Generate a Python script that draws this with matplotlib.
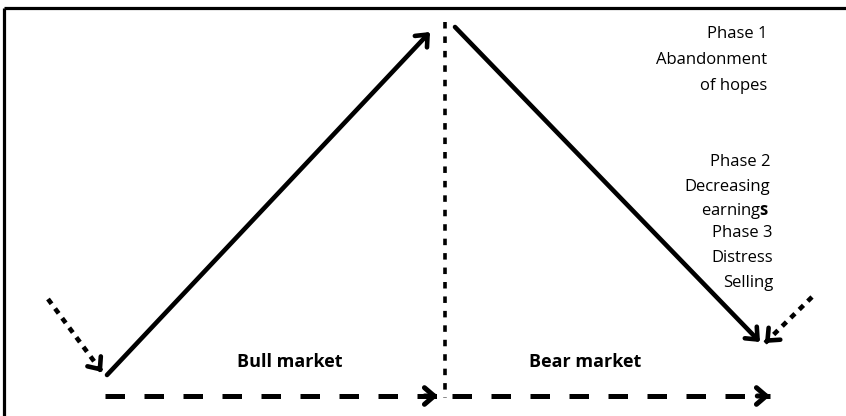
import matplotlib.pyplot as plt

# diagram in pixel units (x right, y down)
bull_trend = [(107, 375), (430, 32)]
bear_trend = [(455, 27), (760, 342)]
lead_in = [(48, 299), (102, 372)]
lead_out = [(812, 297), (765, 343)]
divider_x = 445
divider_y = (22, 398)
axis_bull = [(105, 396), (438, 396)]
axis_bear = [(452, 396), (770, 396)]

phase_lines = [["Phase 1", "Abandonment", "of hopes"],
               ["Phase 2", "Decreasing", r"earning$\mathbf{s}$"],
               ["Phase 3", "Distress", "Selling"]]
phase_right = [767, 770, 773]
phase_rows = [[34, 60, 86], [162, 187, 211], [233, 258, 283]]
market_labels = ["Bull market", "Bear market"]
market_pos = [(290, 362), (585, 362)]

plt.rcParams['font.family'] = ['Open Sans', 'DejaVu Sans']
plt.rcParams['mathtext.fontset'] = 'custom'
plt.rcParams['mathtext.rm'] = 'Open Sans'
plt.rcParams['mathtext.bf'] = 'Open Sans:bold'

fig = plt.figure(figsize=(8.46, 4.16), dpi=100)
ax = fig.add_axes([0, 0, 1, 1])
ax.set_xlim(0, 846)
ax.set_ylim(416, 0)
ax.axis('off')

# frame (top and left only)
ax.plot([4, 846], [8, 8], color='black', lw=2.3, solid_capstyle='butt')
ax.plot([4, 4], [8, 416], color='black', lw=2.3, solid_capstyle='butt')

head = '->,head_length=0.7,head_width=0.6'


def arrow(pts, dashes=None, lw=3.3):
    (x0, y0), (x1, y1) = pts
    if dashes is None:
        ax.annotate('', xy=(x1, y1), xytext=(x0, y0),
                    arrowprops=dict(arrowstyle=head, lw=lw, color='black',
                                    shrinkA=0, shrinkB=0))
        return
    ax.plot([x0, x1], [y0, y1], color='black', lw=lw, dashes=dashes,
            solid_capstyle='butt', dash_capstyle='butt')
    # solid head on a short stub at the tip
    f = 0.96
    ax.annotate('', xy=(x1, y1), xytext=(x0 + (x1 - x0) * f, y0 + (y1 - y0) * f),
                arrowprops=dict(arrowstyle=head, lw=lw, color='black',
                                shrinkA=0, shrinkB=0))


arrow(bull_trend)
arrow(bear_trend)
arrow(lead_in, dashes=(1.3, 1.3))
arrow(lead_out, dashes=(1.3, 1.3))
arrow(axis_bull, dashes=(3.9, 3.9), lw=3.6)
arrow(axis_bear, dashes=(3.9, 3.9), lw=3.6)

ax.plot([divider_x, divider_x], list(divider_y), color='black', lw=2.6,
        dashes=(1.8, 2.2), dash_capstyle='butt')

fs = 12
for lines, x, rows in zip(phase_lines, phase_right, phase_rows):
    for line, y in zip(lines, rows):
        ax.text(x, y, line, ha='right', va='center', fontsize=fs)

for lbl, (x, y) in zip(market_labels, market_pos):
    ax.text(x, y, lbl, ha='center', va='center', fontsize=13, fontweight='bold')

fig.savefig('out.png', dpi=100)
